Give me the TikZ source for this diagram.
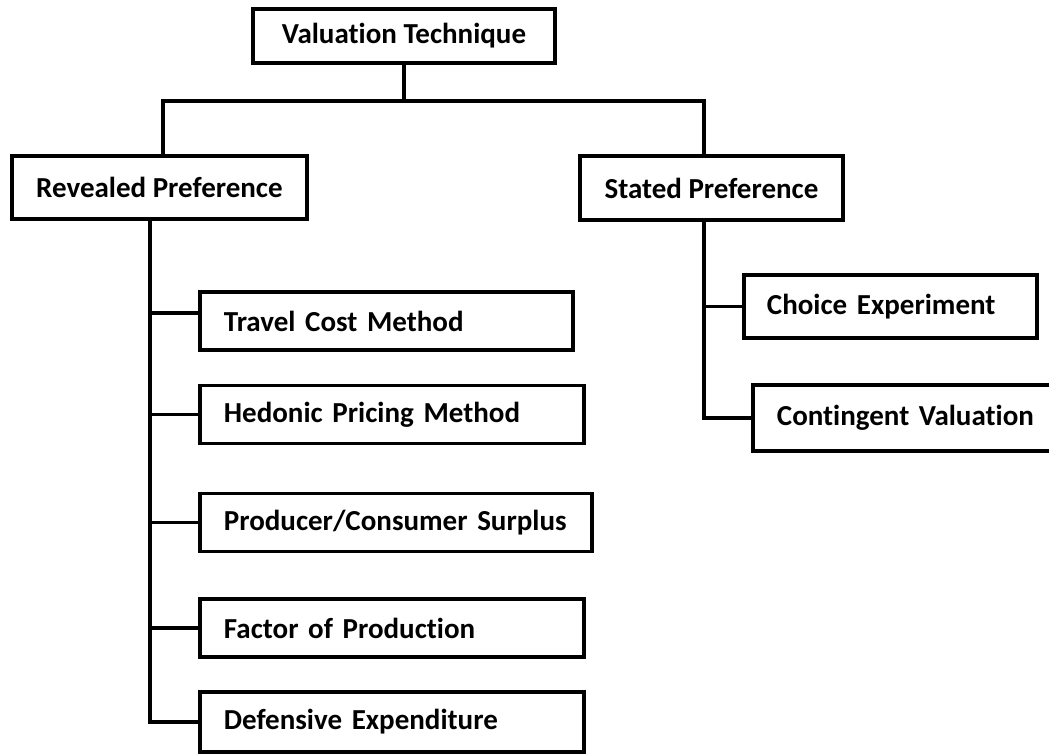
\documentclass[tikz,border=0pt]{standalone}
\usepackage{fontspec}
\setmainfont{Carlito}[Ligatures=NoCommon]
\usetikzlibrary{positioning,calc}

\begin{document}
\begin{tikzpicture}[
x=1pt, y=-1pt,
head/.style={
  draw,
  line width=3.8pt,
  font=\fontsize{29}{34}\selectfont\bfseries,
  inner sep=0pt
  },
leaf/.style={
  head,
  anchor=west,
  align=left,
  inner xsep=24pt,
  minimum height=58pt
  },
link/.style={
  line width=3.8pt
  }
]
\useasboundingbox (0,0) rectangle (1049,755);
\coordinate (bar) at (0,101);
\node[head, minimum width=302pt, minimum height=54pt] (valuation) at (404,36) {Valuation Technique};
\node[head, minimum width=295pt, minimum height=63pt] (revealed) at (159.5,187.5) {Revealed Preference};
\node[head, minimum width=263pt, minimum height=64pt] (stated) at (711.5,188) {Stated Preference};
% revealed preference methods
\node[leaf, text width=325pt] (travel) at (198,321) {Travel Cost Method};
\node[leaf, text width=336pt] (hedonic) at (198,414.5) {Hedonic Pricing Method};
\node[leaf, text width=344pt] (producer) at (198,522.5) {Producer/Consumer Surplus};
\node[leaf, text width=336pt] (factor) at (198,628) {Factor of Production};
\node[leaf, text width=336pt, minimum height=60pt] (defensive) at (198,722) {Defensive Expenditure};
% stated preference methods
\node[leaf, text width=247pt, inner xsep=23pt, minimum height=63pt] (choice) at (742,306.5) {Choice Experiment};
\node[leaf, text width=262pt, minimum height=66pt] (contingent) at (751,418) {Contingent Valuation};
\coordinate (ltrunk) at ([xshift=-9.5pt]revealed.south);
\coordinate (rtrunk) at ([xshift=-7.5pt]stated.south);
\coordinate (travelhook) at ([yshift=8pt]travel.west);
\draw[link] (valuation.south) -- (valuation.south |- bar);
\draw[link] ([xshift=3.5pt]revealed.north) |- ([xshift=-7.5pt]stated.north |- bar) -- ([xshift=-7.5pt]stated.north);
\draw[link] (ltrunk) |- (defensive.west);
\draw[link] (ltrunk |- travelhook) -- (travelhook);
\foreach \m in {hedonic,producer,factor}
  \draw[link] (ltrunk |- \m.west) -- (\m.west);
\draw[link] (rtrunk) |- (contingent.west);
\draw[link] (rtrunk |- choice.west) -- (choice.west);
\end{tikzpicture}
\end{document}
